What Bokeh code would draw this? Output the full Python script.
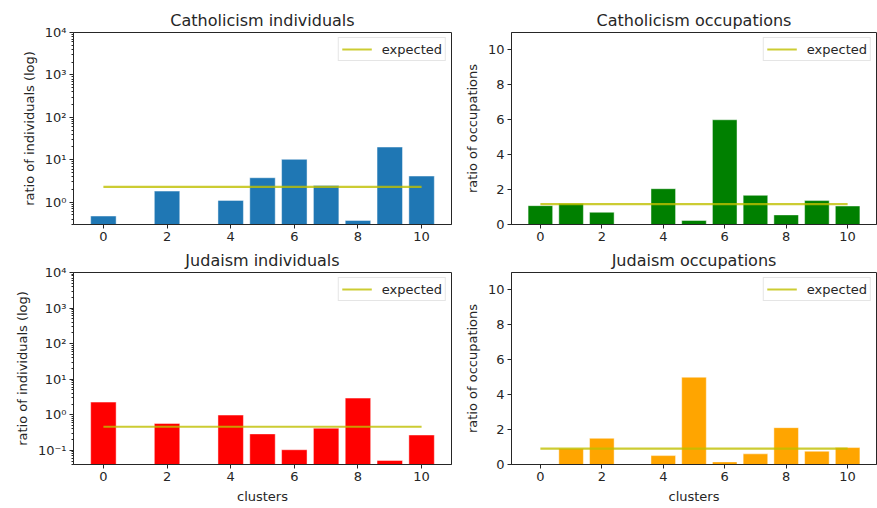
from bokeh.plotting import figure
from bokeh.layouts import column, row
from bokeh.models import Range1d, FixedTicker, CustomJSTickFormatter, ColumnDataSource
from bokeh.embed import file_html
from bokeh.resources import INLINE

clusters = list(range(11))
cath_ind = [0.47, 0, 1.82, 0, 1.10, 3.76, 10.2, 2.48, 0.37, 19.9, 4.12]
cath_ind_expected = 2.30
cath_occ = [1.08, 1.20, 0.70, 0, 2.05, 0.23, 6.0, 1.67, 0.55, 1.37, 1.06]
cath_occ_expected = 1.17
jud_ind = [2.27, 0, 0.57, 0, 0.98, 0.29, 0.104, 0.42, 2.94, 0.052, 0.27]
jud_ind_expected = 0.46
jud_occ = [0, 0.91, 1.50, 0, 0.51, 5.0, 0.15, 0.61, 2.11, 0.76, 0.97]
jud_occ_expected = 0.91

x_ticks = [0, 2, 4, 6, 8, 10]
log_ticks = [0.1, 1, 10, 100, 1000, 10000]
lin_ticks = [0, 2, 4, 6, 8, 10]

FONT = "DejaVu Sans"
TXT = "#262626"
EXP_COLOR = "#bfbf00"

sup_fmt = CustomJSTickFormatter(code="""
const e = Math.round(Math.log10(tick));
const sup = {'-':'\u207b','0':'\u2070','1':'\u00b9','2':'\u00b2','3':'\u00b3','4':'\u2074','5':'\u2075','6':'\u2076','7':'\u2077','8':'\u2078','9':'\u2079'};
return '10' + String(e).split('').map(c => sup[c]).join('');
""")


def make(title, vals, expected, color, log, ylabel, xlabel,
         bl, br, bt, bb, fw, fh, yr):
    kw = dict(y_axis_type="log") if log else {}
    p = figure(frame_width=fw, frame_height=fh, output_backend="svg",
               toolbar_location=None, title=title,
               x_range=Range1d(-0.94, 10.94), y_range=Range1d(*yr),
               min_border_left=bl, min_border_right=br,
               min_border_top=bt, min_border_bottom=bb, **kw)
    if log:
        xs = [c for c, v in zip(clusters, vals) if v > 0]
        ys = [v for v in vals if v > 0]
        bottom = yr[0] / 100.0
    else:
        xs = clusters
        ys = vals
        bottom = 0
    src = ColumnDataSource(dict(x=xs, top=ys))
    p.vbar(x="x", top="top", bottom=bottom, width=0.8, source=src,
           fill_color=color, line_color="white", line_width=1, line_alpha=0.45)
    p.line(x=[clusters[0], clusters[-1]], y=[expected, expected],
           line_color=EXP_COLOR, line_width=2.2, line_alpha=0.8,
           legend_label="expected")

    p.title.text_font = FONT
    p.title.text_font_size = "16px"
    p.title.text_font_style = "normal"
    p.title.text_color = TXT
    p.title.align = "center"
    p.title.standoff = 6

    p.xgrid.visible = False
    p.ygrid.visible = False
    p.outline_line_color = TXT
    p.outline_line_width = 1
    p.outline_line_alpha = 1

    for ax in (p.xaxis[0], p.yaxis[0]):
        ax.axis_line_color = TXT
        ax.major_tick_line_color = TXT
        ax.minor_tick_line_color = TXT
        ax.major_tick_in = 0
        ax.major_tick_out = 4
        ax.minor_tick_in = 0
        ax.minor_tick_out = 2
        ax.major_label_text_font = FONT
        ax.major_label_text_font_size = "13px"
        ax.major_label_text_color = TXT
        ax.major_label_standoff = 3
        ax.axis_label_text_font = FONT
        ax.axis_label_text_font_size = "13px"
        ax.axis_label_text_font_style = "normal"
        ax.axis_label_text_color = TXT
        ax.axis_label_standoff = 5

    p.xaxis.ticker = FixedTicker(ticks=x_ticks)
    if xlabel:
        p.xaxis.axis_label = xlabel
    p.yaxis.axis_label = ylabel
    if log:
        minors = [m * t for t in log_ticks[:-1] + [0.01] for m in range(2, 10)]
        p.yaxis.ticker = FixedTicker(ticks=log_ticks, minor_ticks=minors)
        p.yaxis.formatter = sup_fmt
    else:
        p.yaxis.ticker = FixedTicker(ticks=lin_ticks)

    lg = p.legend[0]
    lg.location = "top_right"
    lg.label_text_font = FONT
    lg.label_text_font_size = "13px"
    lg.label_text_color = TXT
    lg.border_line_color = "#cccccc"
    lg.border_line_width = 1
    lg.background_fill_alpha = 0.8
    lg.margin = 5
    lg.padding = 3
    lg.spacing = 0
    lg.label_height = 16
    lg.glyph_height = 16
    lg.glyph_width = 30
    lg.label_standoff = 10
    return p


p1 = make("Catholicism individuals", cath_ind, cath_ind_expected, "#1f77b4", True,
          "ratio of individuals (log)", None, 73, 10, 32, 20, 378, 192, (0.297, 10000))
p2 = make("Catholicism occupations", cath_occ, cath_occ_expected, "green", False,
          "ratio of occupations", None, 47, 3, 32, 20, 365, 192, (0, 11))
p3 = make("Judaism individuals", jud_ind, jud_ind_expected, "red", True,
          "ratio of individuals (log)", "clusters", 73, 10, 28, 36, 378, 192, (0.04, 10000))
p4 = make("Judaism occupations", jud_occ, jud_occ_expected, "orange", False,
          "ratio of occupations", "clusters", 47, 3, 28, 36, 365, 192, (0, 11))

layout = column(row(p1, p2), row(p3, p4))
open("out.html", "w").write(file_html(layout, INLINE))
